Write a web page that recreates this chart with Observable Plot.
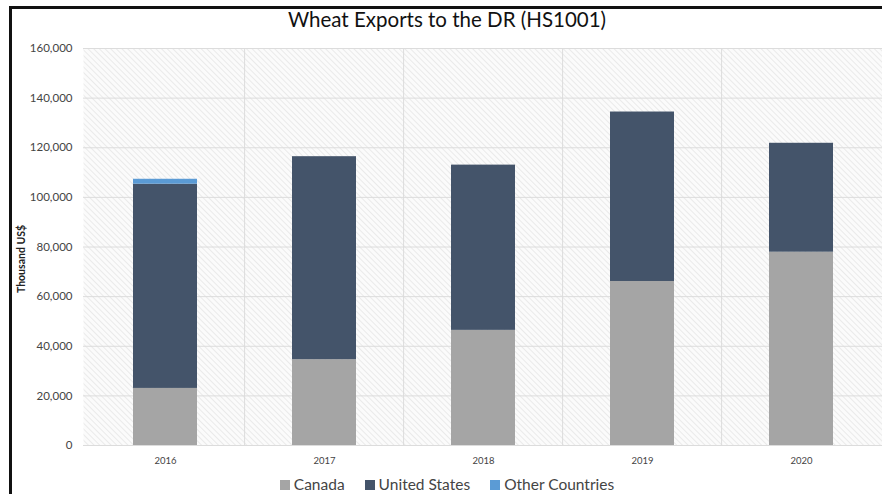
<!DOCTYPE html>
<html>
<head>
<meta charset="utf-8">
<script src="https://cdn.jsdelivr.net/npm/d3@7"></script>
<script src="https://cdn.jsdelivr.net/npm/@observablehq/plot@0.6"></script>
<style>
  html, body { margin: 0; padding: 0; background: #fff; overflow: hidden; }
  body { width: 882px; height: 494px; position: relative; font-family: Lato, "Open Sans", sans-serif; }
  #borderTop { position: absolute; left: 9px; top: 6px; width: 873px; height: 3px; background: #111; }
  #borderLeft { position: absolute; left: 9px; top: 6px; width: 3px; height: 488px; background: #111; }
  #title { position: absolute; left: 0; width: 894px; top: 7px; text-align: center; font-size: 20.5px; color: #111; }
  #chart { position: absolute; left: 0; top: 35px; }
  #legend { position: absolute; left: 0; width: 894px; top: 475px; text-align: center; font-size: 15.5px; color: #444; }
  #legend span.item { margin: 0 10px; }
  #legend span.sw { display: inline-block; width: 10px; height: 10px; margin-right: 4px; vertical-align: 0px; }
</style>
</head>
<body>
<div id="borderTop"></div>
<div id="borderLeft"></div>
<div id="title">Wheat Exports to the DR (HS1001)</div>
<div id="chart"></div>
<div id="legend"></div>
<script>
const years = ["2016", "2017", "2018", "2019", "2020"];
const canada = [23000, 34600, 46400, 66100, 77900];
const unitedStates = [82300, 81800, 66600, 68300, 43900];
const otherCountries = [2000, 0, 0, 0, 0];
const seriesNames = ["Canada", "United States", "Other Countries"];
const seriesColors = ["#a5a5a5", "#44546a", "#5b9bd5"];
const yTicks = [0, 20000, 40000, 60000, 80000, 100000, 120000, 140000, 160000];

const seriesValues = [canada, unitedStates, otherCountries];
const data = [];
seriesNames.forEach((s, si) => years.forEach((y, i) => data.push({year: y, series: s, value: seriesValues[si][i]})));

const plot = Plot.plot({
  width: 882,
  height: 440,
  marginLeft: 83,
  marginRight: 0,
  marginTop: 13,
  marginBottom: 30,
  style: {fontFamily: "Lato, 'Open Sans', sans-serif", background: "transparent"},
  x: {domain: years, paddingInner: 0.6, paddingOuter: 0.3, label: null},
  y: {domain: [0, 160000], ticks: yTicks, label: null},
  color: {domain: seriesNames, range: seriesColors},
  marks: [
    Plot.frame({fill: "url(#hatch)", stroke: "none"}),
    Plot.gridY(yTicks, {stroke: "#dcdcdc", strokeOpacity: 1, strokeWidth: 1}),
    Plot.ruleX(years.slice(1), {stroke: "#dcdcdc", dx: -79.9}),
    Plot.barY(data, {x: "year", y: "value", fill: "series", order: seriesNames}),
    Plot.axisY(yTicks, {tickSize: 0, tickPadding: 11, fontSize: 11.5, fill: "#444", tickFormat: d3.format(",")}),
    Plot.axisX({tickSize: 0, tickPadding: 12, fontSize: 9.5, fill: "#444"}),
    Plot.text(["Thousand US$"], {frameAnchor: "left", textAnchor: "middle", dx: -62, dy: 12, rotate: -90, fontSize: 10.5, fontWeight: "bold", fill: "#222"})
  ]
});

const ns = "http://www.w3.org/2000/svg";
const defs = document.createElementNS(ns, "defs");
defs.innerHTML = '<pattern id="hatch" patternUnits="userSpaceOnUse" width="4" height="4" patternTransform="rotate(-45)"><rect width="4" height="4" fill="#fbfbfb"/><line x1="0" y1="0" x2="0" y2="4" stroke="#e6e6e6" stroke-width="1.6"/></pattern>';
plot.insertBefore(defs, plot.firstChild);
document.getElementById("chart").appendChild(plot);

const legend = document.getElementById("legend");
seriesNames.forEach((s, i) => {
  const item = document.createElement("span");
  item.className = "item";
  item.innerHTML = `<span class="sw" style="background:${seriesColors[i]}"></span>${s}`;
  legend.appendChild(item);
});
</script>
</body>
</html>
